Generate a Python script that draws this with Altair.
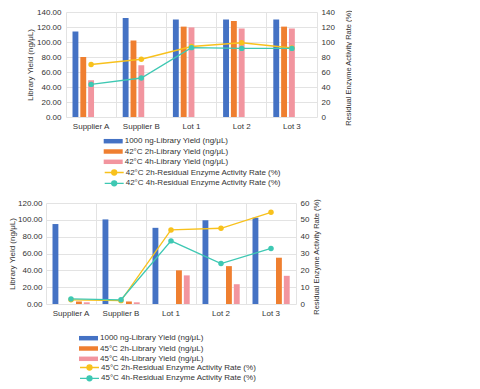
import altair as alt
import pandas as pd

categories = ["Supplier A", "Supplier B", "Lot 1", "Lot 2", "Lot 3"]

# ---- top panel (42°C) ----
top_bar_series = ["1000 ng-Library Yield (ng/μL)", "42°C 2h-Library Yield (ng/μL)", "42°C 4h-Library Yield (ng/μL)"]
top_yield_1000 = [114, 132, 130, 130, 130]
top_yield_2h = [80, 102, 120.5, 128, 120.5]
top_yield_4h = [49, 69, 119.5, 118, 118]
top_line_series = ["42°C 2h-Residual Enzyme Activity Rate (%)", "42°C 4h-Residual Enzyme Activity Rate (%)"]
top_rate_2h = [70, 77, 94, 99, 92]
top_rate_4h = [43.5, 52, 92.5, 91.5, 91.5]
top_left_ticks = [0, 20, 40, 60, 80, 100, 120, 140]
top_right_ticks = [0, 20, 40, 60, 80, 100, 120, 140]

# ---- bottom panel (45°C) ----
bot_bar_series = ["1000 ng-Library Yield (ng/μL)", "45°C 2h-Library Yield (ng/μL)", "45°C 4h-Library Yield (ng/μL)"]
bot_yield_1000 = [95, 100.5, 90.5, 99.5, 102.5]
bot_yield_2h = [3, 3, 40, 45, 55]
bot_yield_4h = [2, 2, 34, 23.5, 33.5]
bot_line_series = ["45°C 2h-Residual Enzyme Activity Rate (%)", "45°C 4h-Residual Enzyme Activity Rate (%)"]
bot_rate_2h = [2.5, 2, 44, 45, 54.5]
bot_rate_4h = [3, 2.5, 37.5, 24, 33]
bot_left_ticks = [0, 20, 40, 60, 80, 100, 120]
bot_right_ticks = [0, 10, 20, 30, 40, 50, 60]

bar_colors = ["#4472c4", "#ef7f30", "#f2959f"]
line_colors = ["#f8c11c", "#3ec8b3"]

FONT = "Liberation Sans"
GRID = "#e3e3e3"
TXT = "#333333"

BAR_SYMBOL = "M-2.375,-0.56H2.375V0.56H-2.375Z"
LINE_SYMBOL = ("M-3.8,0H3.8"
               "M1.0,0A1.0,1.0,0,1,1,-1.0,0A1.0,1.0,0,1,1,1.0,0"
               "M0.55,0A0.55,0.55,0,1,1,-0.55,0A0.55,0.55,0,1,1,0.55,0"
               "M0.15,0A0.15,0.15,0,1,1,-0.15,0A0.15,0.15,0,1,1,0.15,0")


def make_panel(bar_series, yields, line_series, rates, left_ticks, right_ticks,
               width, height, shift, bar_legend_xy, line_legend_xy, left_title_pad,
               left_label_pad, right_title_pad):
    bar_rows = []
    for s, vals in zip(bar_series, yields):
        for c, v in zip(categories, vals):
            bar_rows.append({"category": c, "series": s, "value": v})
    line_rows = []
    for s, vals in zip(line_series, rates):
        for c, v in zip(categories, vals):
            line_rows.append({"category": c, "series": s, "rate": v})
    bar_df = pd.DataFrame(bar_rows)
    line_df = pd.DataFrame(line_rows)

    xscale = alt.Scale(domain=categories, range=[shift, width + shift],
                       paddingInner=0, paddingOuter=0)

    bars = alt.Chart(bar_df).mark_bar().encode(
        x=alt.X("category:N", sort=categories, scale=xscale,
                axis=alt.Axis(title=None, labelAngle=0, grid=False, ticks=False,
                              domain=False, labelFontSize=8, labelPadding=5,
                              labelColor=TXT, labelFont=FONT)),
        xOffset=alt.XOffset("series:N", sort=bar_series,
                            scale=alt.Scale(domain=bar_series, paddingInner=0.25,
                                            paddingOuter=0.83)),
        y=alt.Y("value:Q",
                scale=alt.Scale(domain=[left_ticks[0], left_ticks[-1]], nice=False),
                axis=alt.Axis(title="Library Yield (ng/μL)", values=left_ticks,
                              format=".2f", grid=True, gridColor=GRID, ticks=False,
                              domain=False, labelFontSize=8, labelPadding=left_label_pad,
                              labelColor=TXT, labelFont=FONT, titleFont=FONT,
                              titleFontSize=8, titleFontWeight="normal",
                              titleColor=TXT, titlePadding=left_title_pad,
                              offset=-shift)),
        fill=alt.Fill("series:N", sort=bar_series,
                      scale=alt.Scale(domain=bar_series, range=bar_colors),
                      legend=alt.Legend(title=None, orient="none",
                                        legendX=bar_legend_xy[0], legendY=bar_legend_xy[1],
                                        direction="vertical", symbolType=BAR_SYMBOL,
                                        symbolSize=64, symbolStrokeWidth=0,
                                        labelOffset=7.5, labelFontSize=8,
                                        labelFont=FONT, labelColor=TXT,
                                        labelBaseline="middle",
                                        rowPadding=2.3, padding=0)),
    )

    lines = alt.Chart(line_df).mark_line(
        strokeWidth=1.3, point=alt.OverlayMarkDef(filled=True, size=30)
    ).encode(
        x=alt.X("category:N", sort=categories, scale=xscale,
                axis=alt.Axis(orient="top", grid=True, gridColor=GRID, bandPosition=0,
                              labels=False, ticks=False, domain=False, title=None)),
        y=alt.Y("rate:Q",
                scale=alt.Scale(domain=[right_ticks[0], right_ticks[-1]], nice=False),
                axis=alt.Axis(orient="right", title="Residual Enzyme Activity Rate (%)",
                              values=right_ticks, format="d", grid=False, ticks=False,
                              domain=True, domainColor=GRID, labelFontSize=8,
                              labelPadding=4, labelColor=TXT, labelFont=FONT,
                              titleFont=FONT, titleFontSize=7.5, titleFontWeight="normal",
                              titleColor=TXT, titlePadding=right_title_pad,
                              titleAngle=270, titleBaseline="top",
                              titleY=height / 2 + 3)),
        color=alt.Color("series:N", sort=line_series,
                        scale=alt.Scale(domain=line_series, range=line_colors),
                        legend=alt.Legend(title=None, orient="none",
                                          legendX=line_legend_xy[0], legendY=line_legend_xy[1],
                                          direction="vertical", symbolType=LINE_SYMBOL,
                                          symbolSize=25, symbolStrokeWidth=1.3,
                                          labelOffset=7.5, labelFontSize=8,
                                          labelFont=FONT, labelColor=TXT,
                                          labelBaseline="middle",
                                          rowPadding=-1.2, padding=0)),
    )

    return alt.layer(bars, lines).resolve_scale(y="independent").resolve_axis(
        x="independent").properties(width=width + shift, height=height)


top = make_panel(top_bar_series, [top_yield_1000, top_yield_2h, top_yield_4h],
                 top_line_series, [top_rate_2h, top_rate_4h],
                 top_left_ticks, top_right_ticks, 251, 105, 20,
                 (63.2, 125.2), (64.2, 156.5), 2, 5, 10)

bottom = make_panel(bot_bar_series, [bot_yield_1000, bot_yield_2h, bot_yield_4h],
                    bot_line_series, [bot_rate_2h, bot_rate_4h],
                    bot_left_ticks, bot_right_ticks, 250, 101, 0,
                    (38.5, 131.2), (39.5, 160.5), 1, 4, 4)

chart = alt.vconcat(top, bottom, spacing=9).resolve_scale(
    fill="independent", color="independent"
).resolve_legend(fill="independent", color="independent").properties(
    padding={"left": 0, "top": 0, "right": 0, "bottom": 0}
).configure_view(stroke=None)

chart.save("out.html", embed_options={"renderer": "svg", "actions": False})
